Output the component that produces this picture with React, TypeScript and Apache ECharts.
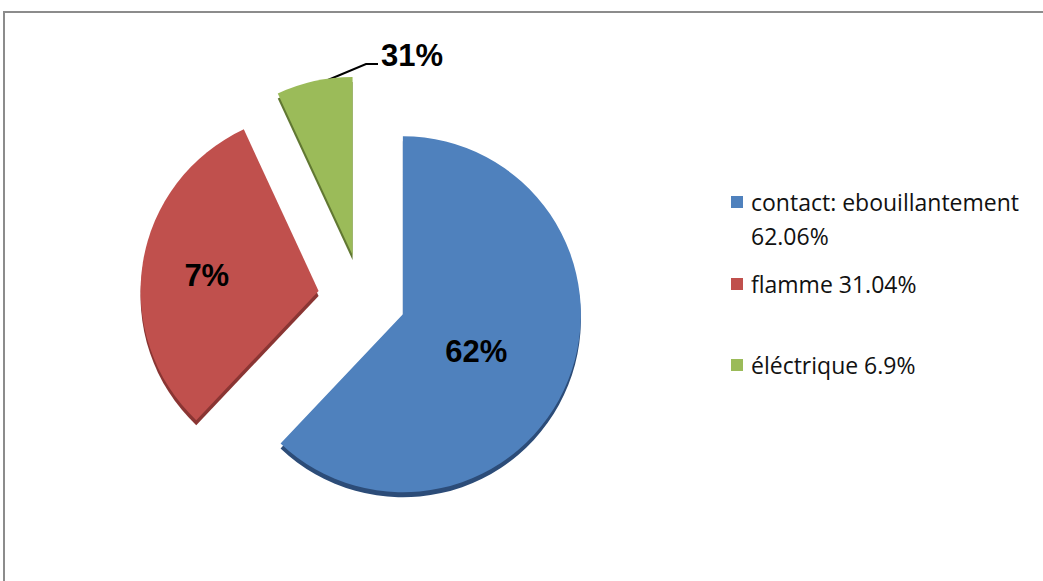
import React, { useEffect, useRef } from "react";
import * as echarts from "echarts";

const categories = ["contact: ebouillantement", "flamme", "éléctrique"];
const values = [62.06, 31.04, 6.9];
const sliceLabels = ["62%", "7%", "31%"];
const colors = ["#4F81BD", "#C0504D", "#9BBB59"];
const rimColors = ["#2C4C78", "#8A3533", "#617832"];

export default function App() {
  const ref = useRef<HTMLDivElement>(null);
  useEffect(() => {
    document.body.style.margin = "0";
    const chart = echarts.init(ref.current!, null, { renderer: "svg" });
    const C = [362, 298];
    const radius = 178;
    const explode = 44;
    const total = values.reduce((a, b) => a + b, 0);

    // exploded centres: each slice moved out along its own bisector
    let acc = 0;
    const centers = values.map((v) => {
      const mid = ((acc + v / 2) / total) * Math.PI * 2;
      acc += v;
      return [C[0] + explode * Math.sin(mid), C[1] - explode * Math.cos(mid)];
    });

    const makeData = (k: number, palette: string[], withLabel: boolean) =>
      values.map((v, i) => ({
        name: categories[i],
        value: v,
        itemStyle: { color: i === k ? palette[i] : "rgba(0,0,0,0)" },
        label: { show: withLabel && i === k },
        labelLine: { show: withLabel && i === k && k === 2 },
      }));

    const rimSeries = values.map((_, k) => ({
      type: "pie",
      center: [centers[k][0], centers[k][1] + 5],
      radius: radius,
      startAngle: 90,
      clockwise: true,
      silent: true,
      z: 1,
      label: { show: false },
      labelLine: { show: false },
      data: makeData(k, rimColors, false),
    }));

    const mainSeries = values.map((_, k) => ({
      type: "pie",
      name: categories[k],
      center: centers[k],
      radius: radius,
      startAngle: 90,
      clockwise: true,
      silent: true,
      z: 2,
      label: {
        position: k === 2 ? "outside" : "inside",
        formatter: (p: any) => sliceLabels[p.dataIndex],
        fontFamily: "Liberation Sans",
        fontWeight: "bold",
        fontSize: 31,
        color: "#000",
      },
      labelLine: { lineStyle: { color: "#000", width: 2 } },
      labelLayout: (p: any) => {
        if (p.dataIndex === 2) {
          return {
            x: 381,
            y: 55,
            align: "left",
            verticalAlign: "middle",
            labelLinePoints: [
              [316, 85],
              [366, 64],
              [378, 64],
            ],
          };
        }
        if (p.dataIndex === 0) return { dx: -12, dy: 3 };
        return { dx: -21, dy: -1 };
      },
      data: makeData(k, colors, true),
    }));

    const legendTops = [146, 262, 343];
    const legends = categories.map((c, i) => ({
      left: 726,
      top: legendTops[i],
      orient: "vertical",
      selectedMode: false,
      itemWidth: 12,
      itemHeight: 12,
      icon: "rect",
      data: [{ name: c, itemStyle: { color: colors[i] } }],
      formatter: (name: string) => {
        const idx = categories.indexOf(name);
        return idx === 0
          ? " \n" + name + "\n" + values[idx] + "%"
          : name + " " + values[idx] + "%";
      },
      textStyle: {
        fontFamily: "Open Sans",
        fontSize: 23,
        color: "#111",
        lineHeight: 34,
        padding: [0, 0, 0, 3],
      },
    }));

    chart.setOption({
      animation: false,
      backgroundColor: "#fff",
      color: colors,
      legend: legends,
      graphic: [
        {
          type: "rect",
          shape: { x: 4, y: 12, width: 1100, height: 700 },
          style: { fill: "none", stroke: "#8c8c8c", lineWidth: 2 },
          silent: true,
        },
      ],
      series: [...rimSeries, ...mainSeries],
    });
    return () => chart.dispose();
  }, []);
  return <div ref={ref} style={{ width: 1043, height: 581 }} />;
}
